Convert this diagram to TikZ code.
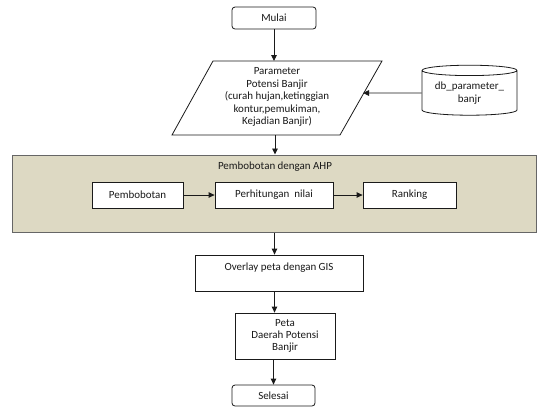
\documentclass[tikz,border=0pt]{standalone}
\usepackage{fontspec}
\setmainfont{Carlito}
\usetikzlibrary{arrows.meta,shapes.geometric}
\definecolor{tan}{HTML}{DDD9C3}
\definecolor{ink}{HTML}{1A1A1A}
\tikzset{
  arr/.style={draw=ink,line width=0.9bp,-{Triangle[length=6bp,width=5.5bp]}},
  term/.style={draw=ink,line width=0.8bp,rounded corners=3bp,fill=white,inner sep=0pt,text=ink},
  proc/.style={draw=ink,line width=0.8bp,fill=white,inner sep=0pt,align=center,text=ink},
  lbl/.style={align=center,inner sep=0pt,text=ink},
  group/.style={draw=black!60,line width=1bp,fill=tan,inner sep=0pt},
}
\begin{document}
\begin{tikzpicture}[x=1bp,y=-1bp,font=\fontsize{11}{11.8}\selectfont]
\useasboundingbox (0,0) rectangle (545,408);
% start
\node[term,minimum width=84bp,minimum height=22bp] (mulai) at (274,18) {Mulai};
% input parallelogram
\draw[draw=ink,line width=0.8bp,fill=white] (213,61) -- (382,61) -- (340,135) -- (172,135) -- cycle;
\node[lbl,font=\fontsize{11}{12.5}\selectfont] (param) at (277,97)
  {Parameter\\Potensi Banjir\\(curah hujan,ketinggian\\kontur,pemukiman,\\Kejadian Banjir)};
\coordinate (ptop) at (274,61);
\coordinate (pbot) at (275,135);
\coordinate (pright) at (363,93);
% database
\node[cylinder,shape border rotate=90,draw=ink,line width=0.8bp,aspect=0.15,
      minimum width=95bp,minimum height=50bp,inner sep=0pt,fill=white,text=ink,align=center,
      font=\fontsize{11}{13}\selectfont] (db) at (469.5,93)
  {db\_parameter\_\\banjr};
% group
\node[group,minimum width=523bp,minimum height=77bp] (ahp) at (274.5,193.5) {};
\node[lbl] (ahpt) at (275,167) {Pembobotan dengan AHP};
\node[proc,minimum width=91bp,minimum height=26bp] (pemb) at (137.5,195) {Pembobotan};
\node[proc,minimum width=118bp,minimum height=26bp] (hit) at (274,195) {Perhitungan\ \ nilai};
\node[proc,minimum width=93bp,minimum height=26bp] (rank) at (409.5,195) {Ranking};
% overlay
\node[proc,minimum width=168bp,minimum height=36bp] (over) at (279,273) {Overlay peta dengan GIS\\\mbox{}};
% map
\node[proc,minimum width=100bp,minimum height=46bp] (peta) at (285,336) {Peta\\Daerah Potensi\\Banjir};
% end
\node[term,minimum width=83bp,minimum height=21bp] (selesai) at (273.5,395.5) {Selesai};
% connectors
\draw[arr] (mulai.south) -- (ptop);
\draw[arr] (db.west) -- (pright);
\draw[arr] (pbot) -- (pbot |- ahp.north);
\draw[arr] (pemb.east) -- (hit.west);
\draw[arr] (hit.east) -- (rank.west);
\draw[arr] (ahp.south) -- (ahp.south |- over.north);
\draw[arr] (over.south -| ahp.south) -- (peta.north -| ahp.south);
\draw[arr] (peta.south -| selesai.north) -- (selesai.north);
\end{tikzpicture}
\end{document}
